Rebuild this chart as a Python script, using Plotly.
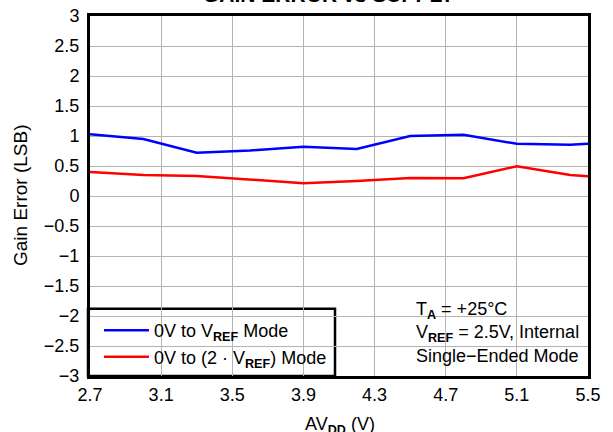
import plotly.graph_objects as go

avdd = [2.7, 3.0, 3.3, 3.6, 3.9, 4.2, 4.5, 4.8, 5.1, 5.4, 5.5]
gain_vref = [1.03, 0.95, 0.72, 0.76, 0.82, 0.785, 1.0, 1.02, 0.87, 0.855, 0.87]
gain_2vref = [0.40, 0.35, 0.335, 0.275, 0.213, 0.25, 0.30, 0.295, 0.495, 0.35, 0.33]

x_ticks = [2.7, 3.1, 3.5, 3.9, 4.3, 4.7, 5.1, 5.5]
y_ticks = [3, 2.5, 2, 1.5, 1, 0.5, 0, -0.5, -1, -1.5, -2, -2.5, -3]
y_ticklabels = [str(v).replace("-", "\u2212") for v in y_ticks]

FONT = "Liberation Sans, Arial, sans-serif"

fig = go.Figure()
fig.add_trace(go.Scatter(x=avdd, y=gain_vref, mode="lines",
                         line=dict(color="#0000FF", width=2.5),
                         name="0V to V<sub><b>REF</b></sub> Mode"))
fig.add_trace(go.Scatter(x=avdd, y=gain_2vref, mode="lines",
                         line=dict(color="#FF0000", width=2.5),
                         name="0V to (2 \u00b7 V<sub><b>REF</b></sub>) Mode"))

fig.update_layout(
    width=613, height=432,
    margin=dict(l=90, r=25, t=16, b=56),
    paper_bgcolor="white", plot_bgcolor="white",
    font=dict(family=FONT, size=18, color="black"),
    showlegend=True,
    legend=dict(x=0.018, y=0.09, xanchor="left", yanchor="middle",
                bgcolor="rgba(0,0,0,0)", borderwidth=0, itemwidth=45,
                font=dict(size=18), tracegroupgap=0),
    xaxis=dict(range=[2.7, 5.5], tickvals=x_ticks, ticktext=[f"{v:.1f}" for v in x_ticks],
               showgrid=True, gridcolor="#b4b4b4", gridwidth=1,
               showline=True, linecolor="black", linewidth=3, mirror=True,
               zeroline=False, ticks="", ticklabelstandoff=0, automargin=False),
    yaxis=dict(range=[-3, 3], tickvals=y_ticks, ticktext=y_ticklabels,
               showgrid=True, gridcolor="#b4b4b4", gridwidth=1,
               showline=True, linecolor="black", linewidth=3, mirror=True,
               zeroline=False, ticks="", ticklabelstandoff=4, automargin=False),
)

# legend frame
fig.add_shape(type="rect", xref="paper", yref="paper", x0=-0.004, x1=0.492, y0=0, y1=0.187,
              fillcolor="white", line=dict(color="black", width=2.5), layer="between")
# condition box background
fig.add_shape(type="rect", xref="paper", yref="y", x0=0.6225, x1=1.0, y0=-3, y1=-1.5,
              fillcolor="white", line=dict(width=0), layer="between")

fig.add_annotation(xref="paper", yref="paper", x=(414 - 90) / 498, y=0.122,
                   xanchor="left", yanchor="middle", align="left", showarrow=False,
                   text="T<sub><b>A</b></sub> = +25\u00b0C<br>V<sub><b>REF</b></sub> = 2.5V, Internal<br>Single\u2212Ended Mode",
                   font=dict(size=18))

# chart title (mostly above the page edge, as in the reference)
fig.add_annotation(xref="paper", yref="paper", x=(328 - 90) / 498, y=1.023,
                   xanchor="center", yanchor="bottom", showarrow=False,
                   text="<b>GAIN ERROR vs SUPPLY</b>", font=dict(size=21))

# axis titles
fig.add_annotation(xref="paper", yref="paper", x=(340 - 90) / 498, y=-0.099,
                   xanchor="center", yanchor="top", showarrow=False,
                   text="AV<sub><b>DD</b></sub> (V)", font=dict(size=18))
fig.add_annotation(xref="paper", yref="paper", x=(20 - 90) / 498, y=0.5,
                   xanchor="center", yanchor="middle", showarrow=False, textangle=-90,
                   text="Gain Error (LSB)", font=dict(size=19))

fig.write_html("out.html", config={"displayModeBar": False},
               post_script="document.body.style.margin='0';")
